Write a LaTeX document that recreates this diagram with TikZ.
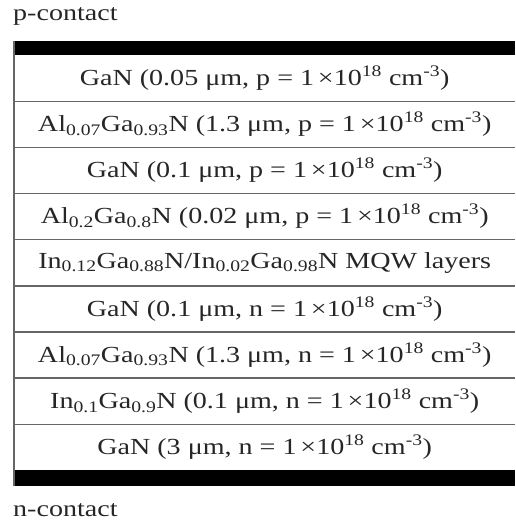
\documentclass[tikz,border=0pt]{standalone}
\usepackage{fontspec}
\setmainfont[FakeStretch=1.22]{Liberation Serif}
\newcommand{\sub}[1]{\textsubscript{#1}}
\newcommand{\supr}[1]{\textsuperscript{#1}}
\begin{document}
\begin{tikzpicture}[x=1pt,y=-1pt,
  layer/.style={minimum width=501pt, minimum height=46.1pt, inner sep=0pt, anchor=north west,
    text=black!85, font=\fontsize{23}{27}\selectfont},
  lbl/.style={anchor=west, inner sep=0pt, text=black!85, font=\fontsize{23}{27}\selectfont},
  bar/.style={fill=black, draw=none, minimum width=501pt, inner sep=0pt, anchor=north west},
  sep/.style={draw=black!60, line width=1.3pt}]
\useasboundingbox (0,0) rectangle (515,524);
\node[lbl] (pc) at (13,16) {p-contact};
\node[bar, minimum height=14pt] (topbar) at (14,41) {};
\node[layer] (r1) at (14,55) {GaN (0.05 μm, p = 1\,×10\supr{18} cm\supr{-3})};
\node[layer] (r2) at (14,101.1) {Al\sub{0.07}Ga\sub{0.93}N (1.3 μm, p = 1\,×10\supr{18} cm\supr{-3})};
\node[layer] (r3) at (14,147.2) {GaN (0.1 μm, p = 1\,×10\supr{18} cm\supr{-3})};
\node[layer] (r4) at (14,193.3) {Al\sub{0.2}Ga\sub{0.8}N (0.02 μm, p = 1\,×10\supr{18} cm\supr{-3})};
\node[layer] (r5) at (14,239.4) {In\sub{0.12}Ga\sub{0.88}N/In\sub{0.02}Ga\sub{0.98}N MQW layers};
\node[layer] (r6) at (14,285.5) {GaN (0.1 μm, n = 1\,×10\supr{18} cm\supr{-3})};
\node[layer] (r7) at (14,331.6) {Al\sub{0.07}Ga\sub{0.93}N (1.3 μm, n = 1\,×10\supr{18} cm\supr{-3})};
\node[layer] (r8) at (14,377.7) {In\sub{0.1}Ga\sub{0.9}N (0.1 μm, n = 1\,×10\supr{18} cm\supr{-3})};
\node[layer] (r9) at (14,423.8) {GaN (3 μm, n = 1\,×10\supr{18} cm\supr{-3})};
\node[bar, minimum height=16pt] (botbar) at (14,470) {};
\node[lbl] (nc) at (13,510) {n-contact};
\foreach \r in {r1,r2,r3,r4,r5,r6,r7,r8}
  \draw[sep] (\r.south west) -- (\r.south east);
\draw[sep] (topbar.north west) -- (botbar.south west);
\end{tikzpicture}
\end{document}
